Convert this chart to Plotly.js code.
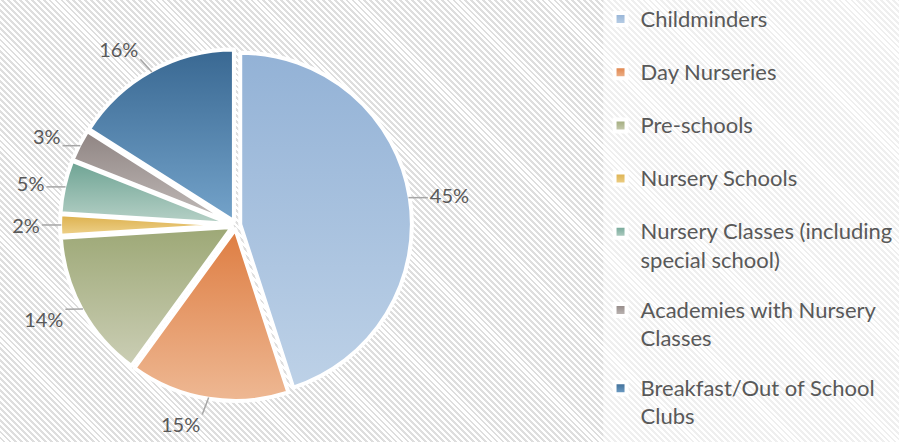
<!DOCTYPE html>
<html>
<head>
<meta charset="utf-8">
<script src="https://cdn.plot.ly/plotly-3.0.1.min.js"></script>
<style>
  html, body { margin: 0; padding: 0; }
  body {
    width: 899px; height: 442px; overflow: hidden;
    background: repeating-linear-gradient(45deg, #ffffff 0px, #ffffff 2.2px, #dedede 2.2px, #dedede 4.2px);
  }
  #chart { width: 899px; height: 442px; }
  #chart .legendtext { font-size: 22px !important; }
</style>
</head>
<body>
<div id="chart"></div>
<script>
// ---- data ----
var categories = [
  "Childminders",
  "Day Nurseries",
  "Pre-schools",
  "Nursery Schools",
  "Nursery Classes (including<br>special school)",
  "Academies with Nursery<br>Classes",
  "Breakfast/Out of School<br>Clubs"
];
var shares = [45, 15, 14, 2, 5, 3, 16];
var topColors =    ["#93b2d6", "#de7d42", "#9da876", "#dcaf4a", "#6da393", "#8f8482", "#396892"];
var bottomColors = ["#bdd1e7", "#eeb893", "#cbceb5", "#eed28d", "#b7d1c7", "#c2bcba", "#74a3ca"];
var midColors =    ["#a8c2df", "#e69a6a", "#b4bb96", "#e5c06b", "#92baad", "#a9a09e", "#5686ae"];

var legendLabels = categories.map(function (c) { return c + "<br>&nbsp;"; });
var FONT = "Lato, 'Open Sans', sans-serif";

// visible pie (slices + legend)
var pieTrace = {
  type: "pie",
  labels: legendLabels,
  values: shares,
  sort: false,
  direction: "clockwise",
  rotation: 0,
  pull: 0.025,
  marker: { colors: midColors, line: { color: "#ffffff", width: 4 } },
  textinfo: "none",
  hoverinfo: "none",
  domain: { x: [0.0668, 0.4582], y: [0.0925, 0.8895] },
  automargin: false
};

// transparent, slightly larger pie that carries the outside percentage labels
var labelTrace = {
  type: "pie",
  labels: legendLabels,
  values: shares,
  sort: false,
  direction: "clockwise",
  rotation: 0,
  showlegend: false,
  marker: { colors: shares.map(function () { return "rgba(0,0,0,0)"; }), line: { width: 0 } },
  texttemplate: "%{value}%",
  textposition: "outside",
  textfont: { family: FONT, size: 20, color: "#595959" },
  hoverinfo: "none",
  domain: { x: [0.0510, 0.4740], y: [0.0600, 0.9220] },
  automargin: false
};

var layout = {
  width: 899, height: 442,
  margin: { l: 0, r: 0, t: 0, b: 0 },
  paper_bgcolor: "rgba(0,0,0,0)",
  plot_bgcolor: "rgba(0,0,0,0)",
  showlegend: true,
  shapes: [{
    type: "rect", xref: "paper", yref: "paper", layer: "below",
    x0: 0.671, x1: 1, y0: 0, y1: 1,
    fillcolor: "rgba(255,255,255,0.5)", line: { width: 0 }
  }],
  legend: {
    x: 0.668, y: 0.980, xanchor: "left", yanchor: "top",
    bgcolor: "rgba(0,0,0,0)",
    font: { family: FONT, size: 19.3, color: "#595959" },
    valign: "top",
    traceorder: "normal"
  }
};

Plotly.newPlot("chart", [pieTrace, labelTrace], layout, { staticPlot: true }).then(function (gd) {
  var svg = gd.querySelector("svg.main-svg");
  var ns = "http://www.w3.org/2000/svg";
  var defs = document.createElementNS(ns, "defs");
  topColors.forEach(function (tc, i) {
    var g = document.createElementNS(ns, "linearGradient");
    g.setAttribute("id", "grad" + i);
    g.setAttribute("x1", "0"); g.setAttribute("y1", "0");
    g.setAttribute("x2", "0"); g.setAttribute("y2", "1");
    var s1 = document.createElementNS(ns, "stop");
    s1.setAttribute("offset", "0"); s1.setAttribute("stop-color", tc);
    var s2 = document.createElementNS(ns, "stop");
    s2.setAttribute("offset", "1"); s2.setAttribute("stop-color", bottomColors[i]);
    g.appendChild(s1); g.appendChild(s2);
    defs.appendChild(g);
  });
  svg.insertBefore(defs, svg.firstChild);

  // let the enlarged legend text show fully
  gd.querySelectorAll(".legend [clip-path]").forEach(function (el) { el.removeAttribute("clip-path"); });

  var traces = gd.querySelectorAll("g.pielayer g.trace");
  var slices = traces[0].querySelectorAll("g.slice path.surface");
  slices.forEach(function (p, i) { p.style.fill = "url(#grad" + i + ")"; });
  var syms = gd.querySelectorAll("g.legendpoints path.legendpie");
  syms.forEach(function (p, i) { p.style.fill = "url(#grad" + i + ")"; });

  // leader lines from each slice edge to its percentage label
  var cd = gd.calcdata[0];
  var cx = cd[0].cx, cy = cd[0].cy, r = cd[0].r;
  var texts = traces[1].querySelectorAll("g.slice text.slicetext");
  var svgRect = svg.getBoundingClientRect();
  var lineLayer = document.createElementNS(ns, "g");
  traces[0].parentNode.appendChild(lineLayer);
  texts.forEach(function (t, i) {
    var pt = cd[i];
    var k = (r * (1 + (pt.pull || 0)) + 3) / r;
    var sx = cx + pt.pxmid[0] * k, sy = cy + pt.pxmid[1] * k;
    var b = t.getBoundingClientRect();
    var bx0 = b.left - svgRect.left - 2, bx1 = b.right - svgRect.left + 2;
    var by0 = b.top - svgRect.top + 2, by1 = b.bottom - svgRect.top - 2;
    var ex = Math.min(Math.max(sx, bx0), bx1);
    var ey = Math.min(Math.max(sy, by0), by1);
    if (Math.hypot(ex - sx, ey - sy) < 5) return;
    var ln = document.createElementNS(ns, "line");
    ln.setAttribute("x1", sx); ln.setAttribute("y1", sy);
    ln.setAttribute("x2", ex); ln.setAttribute("y2", ey);
    ln.setAttribute("stroke", "#a6a6a6");
    ln.setAttribute("stroke-width", "1.5");
    lineLayer.appendChild(ln);
  });
});
</script>
</body>
</html>
